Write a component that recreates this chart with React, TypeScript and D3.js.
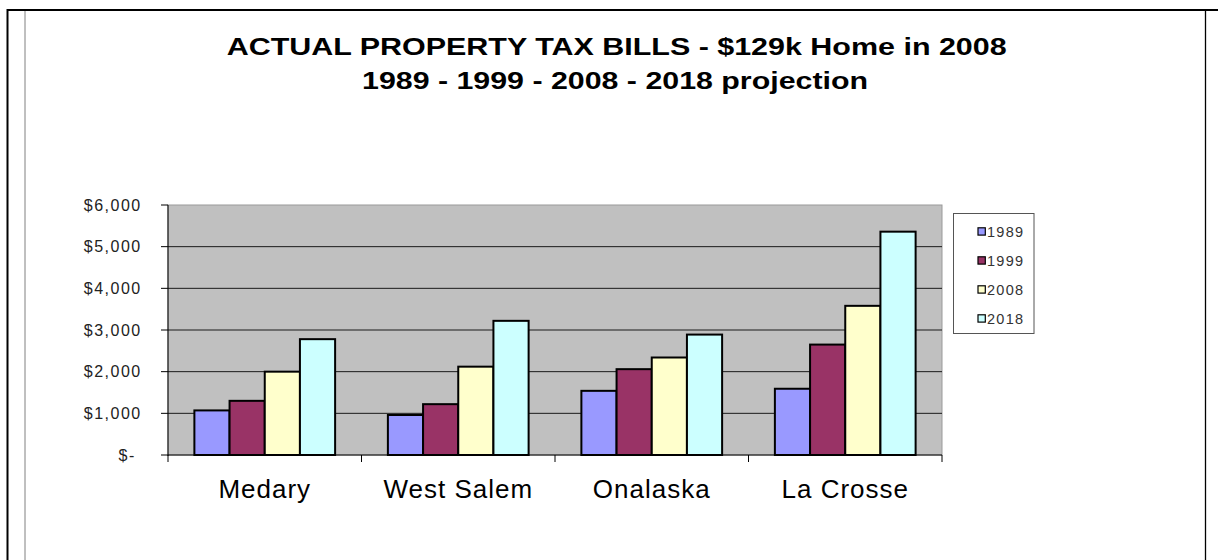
import React from "react";
import * as d3 from "d3";

// tax bills per town
const towns = ["Medary", "West Salem", "Onalaska", "La Crosse"];
const years = ["1989", "1999", "2008", "2018"];
const bills1989 = [1070, 960, 1540, 1590];
const bills1999 = [1300, 1220, 2060, 2650];
const bills2008 = [2000, 2120, 2340, 3580];
const bills2018 = [2780, 3220, 2890, 5360];
const yTicks = [0, 1000, 2000, 3000, 4000, 5000, 6000];
const yTickLabels = ["$- ", "$1,000", "$2,000", "$3,000", "$4,000", "$5,000", "$6,000"];
const colors = ["#9999FF", "#993366", "#FFFFCC", "#CCFFFF"];

const series = [bills1989, bills1999, bills2008, bills2018];

const W = 1218;
const H = 560;
const font = "Arial, 'Liberation Sans', sans-serif";

const App = () => {
  const left = 168, right = 942, top = 205, bottom = 455;

  const x0 = d3.scaleBand().domain(towns).range([left, right]).padding(0);
  const x1 = d3.scaleBand().domain(years).range([0, x0.bandwidth()])
    .paddingInner(0).paddingOuter(0.75);
  const y = d3.scaleLinear().domain([0, 6000]).range([bottom, top]);

  return (
    <svg width={W} height={H} style={{ position: "absolute", left: 0, top: 0 }}>
      <rect x={0} y={0} width={W} height={H} fill="#fff" />
      {/* page frame */}
      <line x1={7.5} y1={10} x2={W} y2={10} stroke="#000" strokeWidth={2} />
      <line x1={7.5} y1={9} x2={7.5} y2={H} stroke="#000" strokeWidth={2} />
      <line x1={25} y1={11} x2={25} y2={H} stroke="#808080" strokeWidth={1} />
      <line x1={1205.5} y1={11} x2={1205.5} y2={H} stroke="#000" strokeWidth={1.3} />

      {/* title */}
      <text x={616.7} y={54.5} textAnchor="middle" fontFamily={font} fontWeight="bold"
        fontSize={23} textLength={780} lengthAdjust="spacingAndGlyphs">
        ACTUAL PROPERTY TAX BILLS - $129k Home in 2008
      </text>
      <text x={615} y={88.5} textAnchor="middle" fontFamily={font} fontWeight="bold"
        fontSize={23} textLength={506} lengthAdjust="spacingAndGlyphs">
        1989 - 1999 - 2008 - 2018 projection
      </text>

      {/* plot area */}
      <rect x={left} y={top} width={right - left} height={bottom - top}
        fill="#C0C0C0" stroke="#9a9a9a" strokeWidth={1} />
      {yTicks.slice(1, -1).map(t => (
        <line key={t} x1={left} x2={right} y1={y(t)} y2={y(t)} stroke="#1a1a1a" strokeWidth={1} />
      ))}

      {/* bars */}
      {towns.map((town, i) => (
        <g key={town} transform={`translate(${x0(town)},0)`}>
          {years.map((yr, j) => (
            <rect key={yr} x={x1(yr)} y={y(series[j][i])} width={x1.bandwidth()}
              height={y(0) - y(series[j][i])} fill={colors[j]} stroke="#000" strokeWidth={2} />
          ))}
        </g>
      ))}

      {/* axes */}
      <line x1={left} x2={left} y1={top} y2={bottom + 1} stroke="#000" strokeWidth={1} />
      <line x1={left} x2={right} y1={bottom} y2={bottom} stroke="#000" strokeWidth={1} />
      {yTicks.map((t, i) => (
        <g key={t}>
          <line x1={left - 7} x2={left} y1={y(t)} y2={y(t)} stroke="#000" strokeWidth={1} />
          <text x={141.7} y={y(t)} dy="0.36em" textAnchor="end" fontFamily={font} fontSize={16}
            letterSpacing={1.5} fill="#222" style={{ whiteSpace: "pre" }}>
            {yTickLabels[i]}
          </text>
        </g>
      ))}
      {[...towns.map(t => x0(t) as number), right].map((xv, i) => (
        <line key={i} x1={xv} x2={xv} y1={bottom} y2={bottom + 7} stroke="#000" strokeWidth={1} />
      ))}
      {towns.map(t => (
        <text key={t} x={(x0(t) as number) + x0.bandwidth() / 2} y={497.5} textAnchor="middle"
          fontFamily={font} fontSize={26} letterSpacing={1} fill="#000">
          {t}
        </text>
      ))}

      {/* legend */}
      <rect x={953.5} y={213.5} width={80.5} height={120} fill="#fff" stroke="#555" strokeWidth={1} />
      {years.map((yr, j) => (
        <g key={yr} transform={`translate(0,${231.5 + j * 29})`}>
          <rect x={978} y={-3.7} width={7.3} height={7.3} fill={colors[j]} stroke="#000" strokeWidth={1.2} />
          <text x={987} y={0} dy="0.36em" fontFamily={font} fontSize={14.5} letterSpacing={1.3} fill="#333">
            {yr}
          </text>
        </g>
      ))}
    </svg>
  );
};

export default App;
